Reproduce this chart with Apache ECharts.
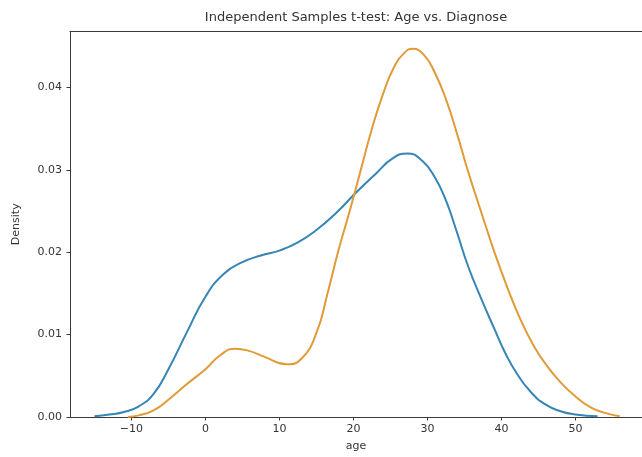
<!DOCTYPE html>
<html>
<head>
<meta charset="utf-8">
<script src="https://cdn.jsdelivr.net/npm/echarts@6/dist/echarts.min.js"></script>
<style>
  html, body { margin: 0; padding: 0; background: #ffffff; }
  #chart { width: 642px; height: 457px; }
</style>
</head>
<body>
<div id="chart"></div>
<script>
// Kernel density of age, first diagnosis group (blue): ages and densities
const agesGroup1 = [-15, -13, -11, -9, -7, -5, -2.5, 0, 2.5, 5, 7.5, 10, 12.5, 15, 17.7, 20.3,
                    23.1, 25.3, 27.3, 29.3, 31, 32.5, 34, 35.5, 37.3, 39.1, 40.5, 42, 44, 46, 48, 50, 53];
const densityGroup1 = [0.0001, 0.0003, 0.0006, 0.0013, 0.0028, 0.0058, 0.0103, 0.0146, 0.0174, 0.0188,
                       0.0196, 0.0202, 0.0212, 0.0227, 0.0248, 0.0272, 0.0296, 0.0314, 0.0320, 0.0311,
                       0.0291, 0.0263, 0.0224, 0.0183, 0.0143, 0.0106, 0.0078, 0.0054, 0.0030, 0.0015,
                       0.0007, 0.0003, 0.0001];

// Kernel density of age, second diagnosis group (orange): ages and densities
const agesGroup2 = [-10.5, -9, -7, -5, -2.5, 0, 2, 4, 6, 8, 11, 13, 15, 16.5, 18, 19.5, 21, 22.5,
                    24, 25.5, 27, 28, 29.5, 31, 32.5, 34, 35.5, 37.3, 39.1, 40.9, 42.6, 44.4, 46,
                    48, 50, 52, 54, 56];
const densityGroup2 = [0.0000, 0.0002, 0.0008, 0.0021, 0.0040, 0.0058, 0.0075, 0.0083, 0.0080, 0.0073,
                       0.0064, 0.0071, 0.0102, 0.0150, 0.0203, 0.0250, 0.0300, 0.0350, 0.0392, 0.0425,
                       0.0443, 0.0447, 0.0440, 0.0418, 0.0386, 0.0344, 0.0298, 0.0248, 0.0199, 0.0155,
                       0.0118, 0.0086, 0.0064, 0.0042, 0.0025, 0.0012, 0.0005, 0.0001];

// Tick values shown on the axes
const xTicks = [-10, 0, 10, 20, 30, 40, 50];
const yTicks = [0.00, 0.01, 0.02, 0.03, 0.04];

const titleText = 'Independent Samples t-test: Age vs. Diagnose';
const xName = 'age';
const yName = 'Density';

const toPairs = (xs, ys) => xs.map((x, i) => [x, ys[i]]);

const textColor = '#333333';
const spineColor = '#3a3a3a';
const fontFamily = 'DejaVu Sans';

const chart = echarts.init(document.getElementById('chart'), null, { renderer: 'canvas' });

chart.setOption({
  animation: false,
  backgroundColor: '#ffffff',
  grid: { left: 70, right: -7, top: 31.5, bottom: 39, containLabel: false },
  xAxis: [
    {
      type: 'value',
      position: 'bottom',
      min: -18.3,
      max: 59,
      name: xName,
      nameLocation: 'middle',
      nameGap: 24,
      nameTextStyle: { color: textColor, fontSize: 11, fontFamily: fontFamily },
      axisLine: { show: true, onZero: false, lineStyle: { color: spineColor, width: 1 } },
      axisTick: { show: true, length: 3.5, customValues: xTicks, lineStyle: { color: spineColor } },
      axisLabel: {
        color: textColor, fontSize: 11, fontFamily: fontFamily, margin: 7,
        customValues: xTicks,
        formatter: v => (v < 0 ? '\u2212' + Math.abs(v) : String(v))
      },
      splitLine: { show: false }
    },
    {
      type: 'value',
      position: 'top',
      min: -18.3,
      max: 59,
      name: titleText,
      nameLocation: 'middle',
      nameGap: 7,
      nameTextStyle: { color: textColor, fontSize: 13, fontFamily: fontFamily },
      axisLine: { show: true, onZero: false, lineStyle: { color: spineColor, width: 1 } },
      axisTick: { show: false },
      axisLabel: { show: false },
      splitLine: { show: false }
    }
  ],
  yAxis: {
    type: 'value',
    position: 'left',
    min: 0,
    max: 0.0468,
    name: yName,
    nameLocation: 'middle',
    nameGap: 48,
    nameTextStyle: { color: textColor, fontSize: 11, fontFamily: fontFamily },
    axisLine: { show: true, onZero: false, lineStyle: { color: spineColor, width: 1 } },
    axisTick: { show: true, length: 3.5, customValues: yTicks, lineStyle: { color: spineColor } },
    axisLabel: {
      color: textColor, fontSize: 11, fontFamily: fontFamily, margin: 8,
      customValues: yTicks,
      formatter: v => v.toFixed(2)
    },
    splitLine: { show: false }
  },
  series: [
    {
      name: 'group 1',
      type: 'line',
      xAxisIndex: 0,
      data: toPairs(agesGroup1, densityGroup1),
      smooth: 0.5,
      showSymbol: false,
      lineStyle: { color: '#3585b5', width: 2 },
      itemStyle: { color: '#3585b5' }
    },
    {
      name: 'group 2',
      type: 'line',
      xAxisIndex: 0,
      data: toPairs(agesGroup2, densityGroup2),
      smooth: 0.5,
      showSymbol: false,
      lineStyle: { color: '#e09b38', width: 2 },
      itemStyle: { color: '#e09b38' }
    }
  ]
});
</script>
</body>
</html>
